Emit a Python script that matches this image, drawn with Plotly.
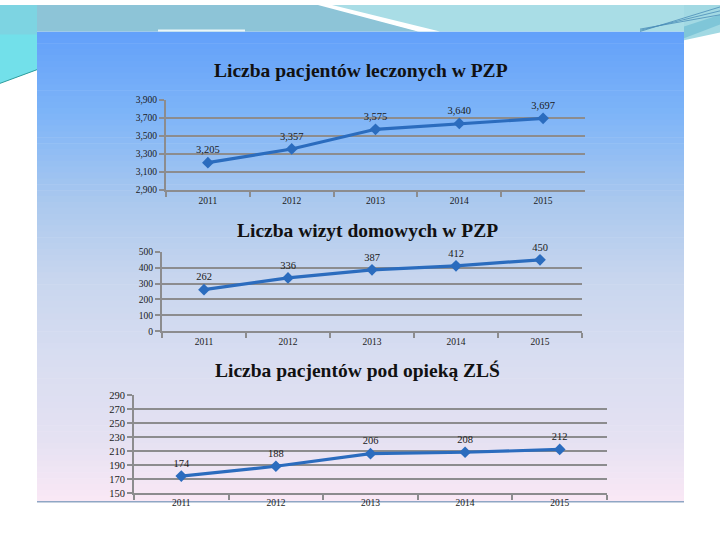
import plotly.graph_objects as go

# ---------------- data ----------------
years = ["2011", "2012", "2013", "2014", "2015"]
pacjenci_pzp = [3205, 3357, 3575, 3640, 3697]
wizyty_pzp = [262, 336, 387, 412, 450]
pacjenci_zls = [174, 188, 206, 208, 212]

titles = ["Liczba pacjentów leczonych w PZP",
          "Liczba wizyt domowych w PZP",
          "Liczba pacjentów pod opieką ZLŚ"]

W, H = 720, 540


def px(x):
    return x / W


def py(y):
    return 1 - y / H


LINE = "#2B6CBE"
GRID = "#8C8C8E"

fig = go.Figure()

series = [pacjenci_pzp, wizyty_pzp, pacjenci_zls]
for i, vals in enumerate(series):
    n = "" if i == 0 else str(i + 1)
    fig.add_trace(go.Scatter(
        x=years, y=vals, xaxis="x" + n, yaxis="y" + n,
        mode="lines+markers+text",
        line=dict(color=LINE, width=3.2),
        marker=dict(symbol="diamond", size=9, color=LINE),
        text=[f"{v:,}" for v in vals],
        textposition="top center",
        textfont=dict(family="Liberation Serif", size=10.5, color="#1a1a1a"),
        cliponaxis=False, showlegend=False, hoverinfo="skip"))

# axis geometry (pixels)
xdom = [(166, 585), (162, 582), (134, 607)]
ydom = [(189, 97), (333, 252), (498, 398)]
yranges = [(2900, 3900, 200), (0, 500, 100), (150, 290, 20)]
ytick_sizes = [9.5, 9.5, 10.5]

layout = dict(
    width=W, height=H,
    margin=dict(l=0, r=0, t=0, b=0),
    paper_bgcolor="white",
    plot_bgcolor="rgba(0,0,0,0)",
    showlegend=False,
)

for i in range(3):
    n = "" if i == 0 else str(i + 1)
    layout["xaxis" + n] = dict(
        domain=[px(xdom[i][0]), px(xdom[i][1])],
        anchor="y" + n, type="category", range=[-0.5, len(years) - 0.5],
        showgrid=False, showline=True, linecolor=GRID, linewidth=2,
        ticks="outside", tickson="boundaries", ticklen=5, tickwidth=2,
        tickcolor=GRID,
        tickfont=dict(family="Liberation Serif", size=9.5, color="#1a1a1a"),
        fixedrange=True)
    lo, hi, dt = yranges[i]
    layout["yaxis" + n] = dict(
        domain=[py(ydom[i][0]), py(ydom[i][1])],
        anchor="x" + n, range=[lo, hi], dtick=dt, tick0=lo,
        tickformat=",d",
        showgrid=True, gridcolor=GRID, gridwidth=2,
        showline=True, linecolor=GRID, linewidth=2,
        ticks="outside", ticklen=5, tickwidth=2, tickcolor=GRID,
        tickfont=dict(family="Liberation Serif", size=ytick_sizes[i], color="#1a1a1a"),
        zeroline=False, fixedrange=True)

fig.update_layout(**layout)

# ---------------- background shapes ----------------
shapes = []


def hexmix(c1, c2, t):
    a = [int(c1[k:k + 2], 16) for k in (1, 3, 5)]
    b = [int(c2[k:k + 2], 16) for k in (1, 3, 5)]
    return "#" + "".join(f"{round(a[j] + (b[j] - a[j]) * t):02x}" for j in range(3))


stops = [(27, "#62A0FA"), (110, "#7DB4F8"), (200, "#AAC8EE"),
         (280, "#C8D6EE"), (360, "#D8DDF1"), (440, "#E4E1F2"), (507, "#FAE8F5")]
top, bot = 27, 507
N = 80
for k in range(N):
    y0 = top + (bot - top) * k / N
    y1 = top + (bot - top) * (k + 1) / N + 0.6
    ym = (y0 + y1) / 2
    for j in range(len(stops) - 1):
        if stops[j][0] <= ym <= stops[j + 1][0]:
            t = (ym - stops[j][0]) / (stops[j + 1][0] - stops[j][0])
            col = hexmix(stops[j][1], stops[j + 1][1], t)
            break
    shapes.append(dict(type="rect", xref="paper", yref="paper", layer="below",
                       x0=px(37), x1=px(684), y0=py(min(y1, bot)), y1=py(y0),
                       fillcolor=col, line=dict(width=0)))

shapes.append(dict(type="line", xref="paper", yref="paper", layer="below",
                   x0=px(37), x1=px(684), y0=py(507), y1=py(507),
                   line=dict(color="#8FA6C4", width=1.5)))


def poly(pts, fill):
    path = "M " + " L ".join(f"{px(a)},{py(b)}" for a, b in pts) + " Z"
    shapes.append(dict(type="path", xref="paper", yref="paper", layer="below",
                       path=path, fillcolor=fill, line=dict(width=0)))


# top decorative band
poly([(0, 0), (322, 0), (420, 27), (0, 27)], "#8DC4D7")
poly([(322, 0), (720, 0), (720, 27), (420, 27)], "#A9DDE6")
poly([(318, 0), (332, 0), (440, 27), (418, 27)], "#FFFFFF")
poly([(158, 27), (245, 27), (245, 25), (158, 25)], "#EAF6F8")
# left strip
poly([(0, 0), (37, 0), (37, 66), (0, 80)], "#7DD4E2")
poly([(0, 30), (37, 30), (37, 66), (0, 80)], "#72E0EA")
shapes.append(dict(type="line", xref="paper", yref="paper", layer="below",
                   x0=px(0), x1=px(37), y0=py(80), y1=py(66),
                   line=dict(color="#2F9E9E", width=1)))
# right strip
poly([(684, 0), (720, 0), (720, 28), (684, 36)], "#A2D9E3")
poly([(684, 22), (720, 10), (720, 20), (684, 34)], "#7FC6D8")
for off in (0, 4, 8):
    shapes.append(dict(type="line", xref="paper", yref="paper", layer="below",
                       x0=px(640), x1=px(720), y0=py(27 - off * 0.3), y1=py(2 + off),
                       line=dict(color="#4A8DB8", width=0.8)))

fig.update_layout(shapes=shapes)

# ---------------- titles ----------------
title_y = [67, 230, 373]
title_x = [361, 367, 357]
for i in range(3):
    fig.add_annotation(text="<b>" + titles[i] + "</b>", xref="paper", yref="paper",
                       x=px(title_x[i]), y=py(title_y[i]),
                       showarrow=False, xanchor="center", yanchor="middle",
                       font=dict(family="Liberation Serif", size=19.5, color="#111111"))

fig.write_html(
    "out.html",
    config={"displayModeBar": False},
    post_script="document.body.style.margin='0';document.body.style.overflow='hidden';")
